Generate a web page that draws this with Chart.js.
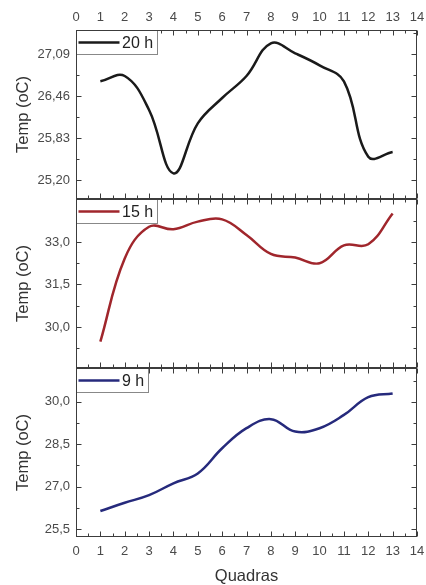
<!DOCTYPE html>
<html>
<head>
<meta charset="utf-8">
<script src="https://cdn.jsdelivr.net/npm/chart.js@4.4.1/dist/chart.umd.min.js"></script>
<style>
  html, body { margin: 0; padding: 0; background: #fff; }
  #wrap { position: relative; width: 426px; height: 585px; overflow: hidden; background: #fff; }
  canvas { position: absolute; left: 0; }
</style>
</head>
<body>
<div id="wrap">
  <canvas id="c20" width="426" height="200" style="top:0px;width:426px;height:200px"></canvas>
  <canvas id="c15" width="426" height="172" style="top:198px;width:426px;height:172px"></canvas>
  <canvas id="c9" width="426" height="218" style="top:367px;width:426px;height:218px"></canvas>
</div>
<script>
// data
const quadras = [1, 2, 3, 4, 5, 6, 7, 8, 9, 10, 11, 12, 13];
const temp20h = [26.68, 26.76, 26.25, 25.30, 26.05, 26.43, 26.76, 27.25, 27.10, 26.92, 26.68, 25.55, 25.62];
const temp15h = [29.48, 32.42, 33.54, 33.45, 33.72, 33.80, 33.25, 32.58, 32.45, 32.25, 32.88, 32.92, 34.01];
const temp9h = [26.14, 26.43, 26.70, 27.12, 27.47, 28.36, 29.07, 29.39, 28.95, 29.07, 29.54, 30.17, 30.30];
const seriesLabels = ['20 h', '15 h', '9 h'];
const xTicks = [0, 1, 2, 3, 4, 5, 6, 7, 8, 9, 10, 11, 12, 13, 14];
const yTicks20h = [25.20, 25.83, 26.46, 27.09];
const yTicks15h = [30.0, 31.5, 33.0];
const yTicks9h = [25.5, 27.0, 28.5, 30.0];

const FONT = 'Liberation Sans, Arial, sans-serif';
const TICK_COLOR = '#4a4a4a';
const TITLE_COLOR = '#333';
const FRAME_COLOR = '#3c3c3c';

// frame with inward ticks on all sides + boxed legend in the top-left corner
const framePlugin = {
  id: 'framePlugin',
  afterDatasetsDraw(chart, args, opts) {
    const { ctx, chartArea: a, scales: { x, y } } = chart;
    const L = Math.round(a.left) + 0.5, R = Math.round(a.right) - 0.5;
    const T = Math.round(a.top) + 0.5, B = Math.round(a.bottom) - 0.5;
    ctx.save();
    ctx.strokeStyle = FRAME_COLOR;
    ctx.lineWidth = 1;
    ctx.beginPath();
    const xMark = (v, len) => {
      const px = Math.round(x.getPixelForValue(v)) + 0.5;
      ctx.moveTo(px, B); ctx.lineTo(px, B - len);
      ctx.moveTo(px, T); ctx.lineTo(px, T + len);
    };
    xTicks.forEach((v, i) => {
      xMark(v, 5);
      if (i < xTicks.length - 1) xMark((v + xTicks[i + 1]) / 2, 3);
    });
    const yMark = (v, len) => {
      if (v < y.min || v > y.max) return;
      const py = Math.round(y.getPixelForValue(v)) + 0.5;
      ctx.moveTo(L, py); ctx.lineTo(L + len, py);
      ctx.moveTo(R, py); ctx.lineTo(R - len, py);
    };
    const yt = opts.yTicks;
    const half = (yt[1] - yt[0]) / 2;
    yMark(yt[0] - half, 3);
    yt.forEach(v => { yMark(v, 5); yMark(v + half, 3); });
    ctx.stroke();

    // legend box
    ctx.font = '16px ' + FONT;
    const tx = L + 45.5;
    const tw = ctx.measureText(opts.label).width;
    const bh = 24;
    ctx.fillStyle = '#fff';
    ctx.fillRect(L, T, tx + tw + 4 - L, bh);
    ctx.strokeStyle = '#888';
    ctx.strokeRect(L, T, Math.round(tx + tw + 4 - L), bh);
    ctx.strokeStyle = opts.color;
    ctx.lineWidth = 2.5;
    ctx.beginPath();
    ctx.moveTo(L + 2, T + 12); ctx.lineTo(L + 43, T + 12);
    ctx.stroke();
    ctx.fillStyle = '#222';
    ctx.textBaseline = 'middle';
    ctx.fillText(opts.label, tx, T + 13);

    ctx.strokeStyle = FRAME_COLOR;
    ctx.lineWidth = 1;
    ctx.strokeRect(L, T, R - L, B - T);
    ctx.restore();
  }
};

// keep the plot area fixed: no extra room for overhanging tick labels
function noPad(s) {
  s.paddingLeft = 0; s.paddingRight = 0; s.paddingTop = 0; s.paddingBottom = 0;
}

function makePanel(id, values, label, color, yMin, yMax, yTicks, dec, xMode, padding) {
  const tickFont = { family: FONT, size: 13 };
  const xHeight = xMode === 'top' ? 30 : (xMode === 'bottom' ? 48 : 0);
  const xScale = {
    type: 'linear', min: 0, max: 14,
    display: xMode !== 'none',
    position: xMode === 'top' ? 'top' : 'bottom',
    afterBuildTicks: s => { s.ticks = xTicks.map(v => ({ value: v })); },
    afterFit: s => { s.height = xHeight; noPad(s); },
    grid: { display: false, drawTicks: false },
    border: { display: false },
    ticks: { padding: xMode === 'top' ? 5 : 7, color: TICK_COLOR, font: tickFont, maxRotation: 0, autoSkip: false },
    title: {
      display: xMode === 'bottom', text: 'Quadras', color: TITLE_COLOR,
      font: { family: FONT, size: 16.5, lineHeight: 1 }, padding: { top: 0, bottom: 0 }
    }
  };
  return new Chart(document.getElementById(id), {
    type: 'line',
    data: {
      datasets: [{
        label: label,
        data: quadras.map((q, i) => ({ x: q, y: values[i] })),
        borderColor: color,
        borderWidth: 2.5,
        pointRadius: 0,
        tension: 0.4,
        fill: false
      }]
    },
    options: {
      responsive: false,
      animation: false,
      layout: { padding: padding },
      plugins: {
        legend: { display: false },
        tooltip: { enabled: false },
        framePlugin: { label: label, color: color, yTicks: yTicks }
      },
      scales: {
        x: xScale,
        y: {
          min: yMin, max: yMax,
          afterBuildTicks: s => { s.ticks = yTicks.map(v => ({ value: v })); },
          afterFit: s => { s.width = 76; noPad(s); },
          grid: { display: false, drawTicks: false },
          border: { display: false },
          ticks: { padding: 6, color: TICK_COLOR, font: tickFont, callback: v => v.toFixed(dec).replace('.', ',') },
          title: {
            display: true, text: 'Temp (oC)', color: TITLE_COLOR,
            font: { family: FONT, size: 16.5 }, padding: { top: 14, bottom: 0 }
          }
        }
      }
    },
    plugins: [framePlugin]
  });
}

makePanel('c20', temp20h, seriesLabels[0], '#1a1a1a', 24.915, 27.45, yTicks20h, 2, 'top', { left: 0, right: 9, top: 0, bottom: 1 });
makePanel('c15', temp15h, seriesLabels[1], '#a0262c', 28.55, 34.52, yTicks15h, 1, 'none', { left: 0, right: 9, top: 1, bottom: 2 });
makePanel('c9', temp9h, seriesLabels[2], '#262a7c', 25.22, 31.2, yTicks9h, 1, 'bottom', { left: 0, right: 9, top: 1, bottom: 0 });
</script>
</body>
</html>
